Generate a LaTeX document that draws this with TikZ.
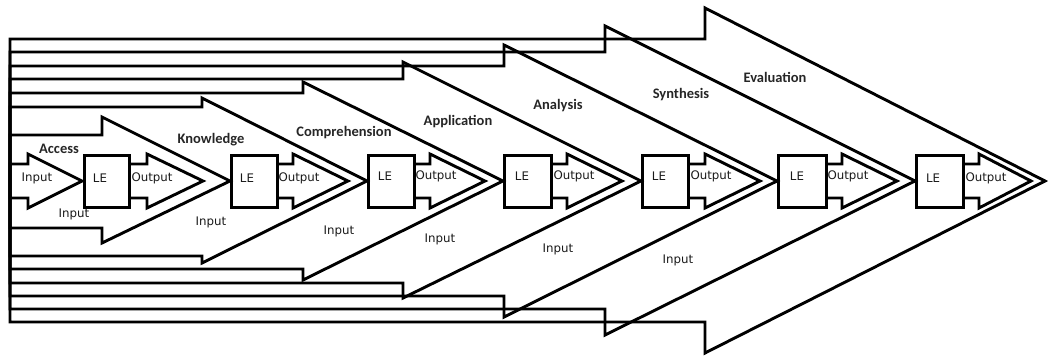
\documentclass[tikz,border=0pt]{standalone}
\usepackage{fontspec}
\setmainfont{DejaVu Sans}
\newfontfamily\stagefont{Carlito}
\begin{document}
\begin{tikzpicture}[x=1pt,y=-1pt,line join=miter,
  arr/.style={draw=black,line width=2.9pt},
  lebox/.style={draw=black,line width=2.9pt,minimum width=45pt,minimum height=52pt,inner sep=0pt,anchor=north west},
  stage/.style={font=\stagefont\bfseries\fontsize{14.5}{16}\selectfont,text=black!85,inner sep=0pt},
  lbl/.style={font=\fontsize{11.8}{13}\selectfont,text=black!90,inner sep=0pt}]
\useasboundingbox (0,0) rectangle (1048,356);
% nested stage arrows (outlines only, they overlap)
\foreach \n/\st/\sb/\ht/\hb/\t in {28/164/198/154/208/82,
  102/135/228/117/243/230,
  202/107/256/98/263/367,
  303/93/269/82/280/503,
  403/79/283/62/298/641,
  504/66/296/45/317/777,
  605/52/309/26/335/915,
  705/39/322/8/353/1045}
  \draw[arr] (10,\st) -- (\n,\st) -- (\n,\ht) -- (\t,181) -- (\n,\hb) -- (\n,\sb) -- (10,\sb) -- cycle;
% LE boxes
\foreach \i/\x/\w in {1/83/45,2/230/46,3/367/46,4/503/47,5/641/46,6/777/48,7/915/47}
  \node[lebox,minimum width=\w pt] (le\i) at (\x,154) {};
% output arrows
\foreach \i/\n/\t in {1/147/203,2/293/348,3/430/485,4/567/622,5/705/760,6/842/897,7/979/1031}
  \draw[arr] (le\i.east |- 0,164) -- (\n,164) -- (\n,154) -- (\t,181) -- (\n,208) -- (\n,198) -- (le\i.east |- 0,198);
% LE and Output labels
\foreach \i/\lx/\ox/\y in {1/100/152/178,2/247/299/178,3/385/436/176,4/522/574/176,5/659/711/176,6/797/848/176,7/933/986/178}{
  \node[lbl] (let\i) at (\lx,\y) {LE};
  \node[lbl] (out\i) at (\ox,\y) {Output};
}
% Input labels
\foreach \i/\x/\y in {0/37/178,1/74/214,2/211/222,3/339/231,4/440/239,5/558/249,6/678/260}
  \node[lbl] (in\i) at (\x,\y) {Input};
% stage labels
\node[stage] (s1) at (59,149) {Access};
\node[stage] (s2) at (211,140) {Knowledge};
\node[stage] (s3) at (344,133) {Comprehension};
\node[stage] (s4) at (458,122) {Application};
\node[stage] (s5) at (558,106) {Analysis};
\node[stage] (s6) at (681,95) {Synthesis};
\node[stage] (s7) at (775,77) {Evaluation};
\end{tikzpicture}
\end{document}
